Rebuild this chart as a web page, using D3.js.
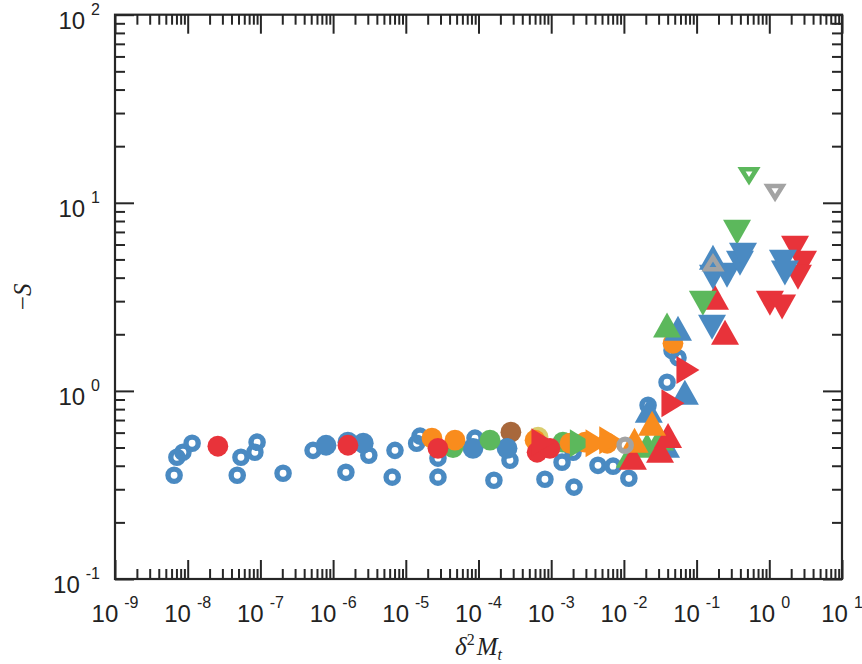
<!DOCTYPE html>
<html>
<head>
<meta charset="utf-8">
<script src="https://cdn.jsdelivr.net/npm/d3@7"></script>
<style>
  body { margin: 0; background: #fff; }
  svg { display: block; }
</style>
</head>
<body>
<div id="chart"></div>
<script>
// tick labels
var xExponents = [-9, -8, -7, -6, -5, -4, -3, -2, -1, 0, 1];
var yExponents = [-1, 0, 1, 2];

// open blue circles
var blueRingX = [6.5e-9, 7.1e-9, 8.6e-9, 1.15e-8, 4.8e-8, 5.4e-8, 8.4e-8, 9.0e-8, 2.05e-7, 5.3e-7,
  1.5e-6, 3.1e-6, 7.1e-6, 6.5e-6, 1.41e-5, 1.57e-5, 2.77e-5, 2.77e-5, 8.95e-5, 1.63e-4,
  2.71e-4, 8.2e-4, 1.41e-3, 2.0e-3, 2.06e-3, 4.4e-3, 7.1e-3, 1.17e-2, 2.15e-2, 3.92e-2, 4.59e-2, 5.55e-2];
var blueRingY = [0.356, 0.444, 0.472, 0.527, 0.356, 0.444, 0.472, 0.534, 0.365, 0.483,
  0.369, 0.455, 0.483, 0.348, 0.527, 0.575, 0.439, 0.348, 0.561, 0.335,
  0.428, 0.339, 0.418, 0.472, 0.308, 0.402, 0.398, 0.343, 0.839, 1.112, 1.64, 1.50];

// filled circles
var blueDotX = [8.0e-7, 1.6e-6, 2.6e-6, 8.4e-5, 2.47e-4];
var blueDotY = [0.514, 0.534, 0.527, 0.495, 0.495];
var yellowDotX = [6.6e-4];
var yellowDotY = [0.568];
var brownDotX = [2.79e-4];
var brownDotY = [0.603];
var greenDotX = [4.46e-5, 1.44e-4, 1.45e-3];
var greenDotY = [0.50, 0.547, 0.534];
var orangeDotX = [4.73e-2, 2.29e-5, 4.75e-5, 6.0e-4, 1.82e-3, 2.92e-3, 5.9e-3];
var orangeDotY = [1.79, 0.561, 0.547, 0.547, 0.527, 0.534, 0.527];
var redDotX = [2.6e-8, 1.6e-6, 2.77e-5, 6.4e-4, 9.6e-4];
var redDotY = [0.508, 0.514, 0.495, 0.472, 0.495];
var grayRingX = [1.04e-2];
var grayRingY = [0.514];

// triangles
var blueUpX = [2.2e-2, 3.8e-2, 6.9e-2, 5.55e-2, 0.168];
var blueUpY = [0.79, 0.514, 0.984, 2.15, 5.13];
var redUpX = [1.33e-2, 3.14e-2, 4.05e-2, 0.179, 0.246];
var redUpY = [0.444, 0.483, 0.58, 3.15, 2.05];
var greenUpX = [1.2e-2, 2.08e-2, 3.14e-2, 3.92e-2];
var greenUpY = [0.455, 0.514, 0.561, 2.24];
var orangeUpX = [1.4e-2, 2.44e-2];
var orangeUpY = [0.547, 0.673];
var redRightX = [7.7e-4, 4.73e-2, 7.6e-2];
var redRightY = [0.534, 0.861, 1.29];
var orangeRightX = [4.27e-3, 6.6e-3];
var orangeRightY = [0.527, 0.547];
var greenRightX = [2.6e-3];
var greenRightY = [0.527];
var greenDownX = [0.122, 0.360];
var greenDownY = [2.92, 6.97];
var redDownX = [1.02, 1.50, 2.26, 2.91, 2.48];
var redDownY = [2.92, 2.79, 5.73, 4.77, 4.02];
var blueDownX = [0.163, 0.168, 0.262, 0.395, 0.435, 1.54, 1.64];
var blueDownY = [2.18, 4.02, 4.12, 4.77, 5.26, 4.83, 4.23];
var greenOpenDownX = [0.526];
var greenOpenDownY = [14.0];
var grayOpenDownX = [1.20];
var grayOpenDownY = [11.4];
var grayOpenUpX = [0.168];
var grayOpenUpY = [4.77];

var blue = "#4a8ac2", red = "#e8333a", orange = "#f98c1d", green = "#5cb85c",
    brown = "#a8683c", yellow = "#dacd6e", gray = "#a3a3a3";

var width = 862, height = 664;
var plotLeft = 115, plotRight = 842, plotTop = 14.7, plotBottom = 579;

var svg = d3.select("#chart").append("svg")
  .attr("width", width)
  .attr("height", height);

var x = d3.scaleLog().domain([1e-9, 10]).range([plotLeft, plotRight]);
var y = d3.scaleLog().domain([0.1, 100]).range([plotBottom, plotTop]);

function zip(xs, ys) {
  return xs.map(function (v, i) { return [v, ys[i]]; });
}

function triPath(dir, w, h) {
  if (dir == "up") return "M0," + (-h / 2) + "L" + (w / 2) + "," + (h / 2) + "L" + (-w / 2) + "," + (h / 2) + "Z";
  if (dir == "down") return "M0," + (h / 2) + "L" + (w / 2) + "," + (-h / 2) + "L" + (-w / 2) + "," + (-h / 2) + "Z";
  return "M" + (w / 2) + ",0L" + (-w / 2) + "," + (-h / 2) + "L" + (-w / 2) + "," + (h / 2) + "Z";
}

var marks = svg.append("g");

function ring(xs, ys, color) {
  marks.append("g").selectAll("circle").data(zip(xs, ys)).join("circle")
    .attr("cx", function (d) { return x(d[0]); })
    .attr("cy", function (d) { return y(d[1]); })
    .attr("r", 6.1)
    .attr("fill", "none")
    .attr("stroke", color)
    .attr("stroke-width", 5.4);
}

function dot(xs, ys, color) {
  marks.append("g").selectAll("circle").data(zip(xs, ys)).join("circle")
    .attr("cx", function (d) { return x(d[0]); })
    .attr("cy", function (d) { return y(d[1]); })
    .attr("r", 10.4)
    .attr("fill", color);
}

function tri(xs, ys, color, dir) {
  var p = dir == "right" ? triPath(dir, 23, 28) : triPath(dir, 28, 25);
  marks.append("g").selectAll("path").data(zip(xs, ys)).join("path")
    .attr("transform", function (d) { return "translate(" + x(d[0]) + "," + y(d[1]) + ")"; })
    .attr("d", p)
    .attr("fill", color);
}

function openTri(xs, ys, color, dir) {
  marks.append("g").selectAll("path").data(zip(xs, ys)).join("path")
    .attr("transform", function (d) { return "translate(" + x(d[0]) + "," + y(d[1]) + ")"; })
    .attr("d", triPath(dir, 15, 12))
    .attr("fill", "none")
    .attr("stroke", color)
    .attr("stroke-width", 4.5);
}

ring(blueRingX, blueRingY, blue);
dot(yellowDotX, yellowDotY, yellow);
dot(brownDotX, brownDotY, brown);
dot(blueDotX, blueDotY, blue);
dot(greenDotX, greenDotY, green);
dot(orangeDotX, orangeDotY, orange);
dot(redDotX, redDotY, red);
tri(blueUpX, blueUpY, blue, "up");
tri(greenUpX, greenUpY, green, "up");
tri(redUpX, redUpY, red, "up");
tri(orangeUpX, orangeUpY, orange, "up");
tri(greenRightX, greenRightY, green, "right");
tri(orangeRightX, orangeRightY, orange, "right");
tri(redRightX, redRightY, red, "right");
tri(greenDownX, greenDownY, green, "down");
tri(redDownX, redDownY, red, "down");
tri(blueDownX, blueDownY, blue, "down");
ring(grayRingX, grayRingY, gray);
openTri(greenOpenDownX, greenOpenDownY, green, "down");
openTri(grayOpenDownX, grayOpenDownY, gray, "down");
openTri(grayOpenUpX, grayOpenUpY, gray, "up");

// axes: box with inward ticks on every side
var xMajor = xExponents.map(function (e) { return Math.pow(10, e); });
var yMajor = yExponents.map(function (e) { return Math.pow(10, e); });
var xMinor = [], yMinor = [];
xExponents.slice(0, -1).forEach(function (e) {
  for (var k = 2; k < 10; k++) xMinor.push(k * Math.pow(10, e));
});
yExponents.slice(0, -1).forEach(function (e) {
  for (var k = 2; k < 10; k++) yMinor.push(k * Math.pow(10, e));
});

var axisColor = "#262626";

function drawAxis(axisFn, scale, pos, ticks, len) {
  var g = svg.append("g")
    .attr("transform", pos)
    .call(axisFn(scale).tickValues(ticks).tickSize(-len).tickFormat(""));
  g.select(".domain").remove();
  g.selectAll("line").attr("stroke", axisColor).attr("stroke-width", 2);
}

drawAxis(d3.axisBottom, x, "translate(0," + plotBottom + ")", xMinor, 10);
drawAxis(d3.axisBottom, x, "translate(0," + plotBottom + ")", xMajor, 19);
drawAxis(d3.axisTop, x, "translate(0," + plotTop + ")", xMinor, 10);
drawAxis(d3.axisTop, x, "translate(0," + plotTop + ")", xMajor, 19);
drawAxis(d3.axisLeft, y, "translate(" + plotLeft + ",0)", yMinor, 10);
drawAxis(d3.axisLeft, y, "translate(" + plotLeft + ",0)", yMajor, 19);
drawAxis(d3.axisRight, y, "translate(" + plotRight + ",0)", yMinor, 10);
drawAxis(d3.axisRight, y, "translate(" + plotRight + ",0)", yMajor, 19);

svg.append("rect")
  .attr("x", plotLeft).attr("y", plotTop)
  .attr("width", plotRight - plotLeft).attr("height", plotBottom - plotTop)
  .attr("fill", "none")
  .attr("stroke", axisColor)
  .attr("stroke-width", 2.2);

// tick labels
var labelFont = "'Liberation Sans', Arial, Helvetica, sans-serif";

var xl = svg.append("g").selectAll("text").data(xExponents).join("text")
  .attr("x", function (e) { return x(Math.pow(10, e)); })
  .attr("y", plotBottom + 43)
  .attr("text-anchor", "middle")
  .attr("font-family", labelFont)
  .attr("fill", "#222");
xl.append("tspan").attr("font-size", 24).text("10");
xl.append("tspan").attr("font-size", 16).attr("dx", 6).attr("dy", -14)
  .text(function (e) { return String(e); });

var yl = svg.append("g").selectAll("text").data(yExponents).join("text")
  .attr("x", 100)
  .attr("y", function (e) { return y(Math.pow(10, e)) + 14; })
  .attr("text-anchor", "end")
  .attr("font-family", labelFont)
  .attr("fill", "#222");
yl.append("tspan").attr("font-size", 24).text("10");
yl.append("tspan").attr("font-size", 16).attr("dx", 6).attr("dy", -14)
  .text(function (e) { return String(e); });

// axis titles
var xt = svg.append("text")
  .attr("x", (plotLeft + plotRight) / 2)
  .attr("y", 655)
  .attr("text-anchor", "middle")
  .attr("font-family", "'Liberation Serif', serif")
  .attr("font-size", 25)
  .attr("fill", "#222");
xt.append("tspan").attr("font-style", "italic").text("δ");
xt.append("tspan").attr("font-size", 16).attr("dy", -10).text("2");
xt.append("tspan").attr("font-style", "italic").attr("dy", 10).attr("dx", 2).text("M");
xt.append("tspan").attr("font-style", "italic").attr("font-size", 16).attr("dy", 5).text("t");

var yt = svg.append("text")
  .attr("transform", "translate(31," + ((plotTop + plotBottom) / 2) + ") rotate(-90)")
  .attr("text-anchor", "middle")
  .attr("font-family", "'Liberation Serif', serif")
  .attr("font-size", 25)
  .attr("fill", "#222");
yt.append("tspan").text("\u2212");
yt.append("tspan").attr("font-style", "italic").text("S");
</script>
</body>
</html>
